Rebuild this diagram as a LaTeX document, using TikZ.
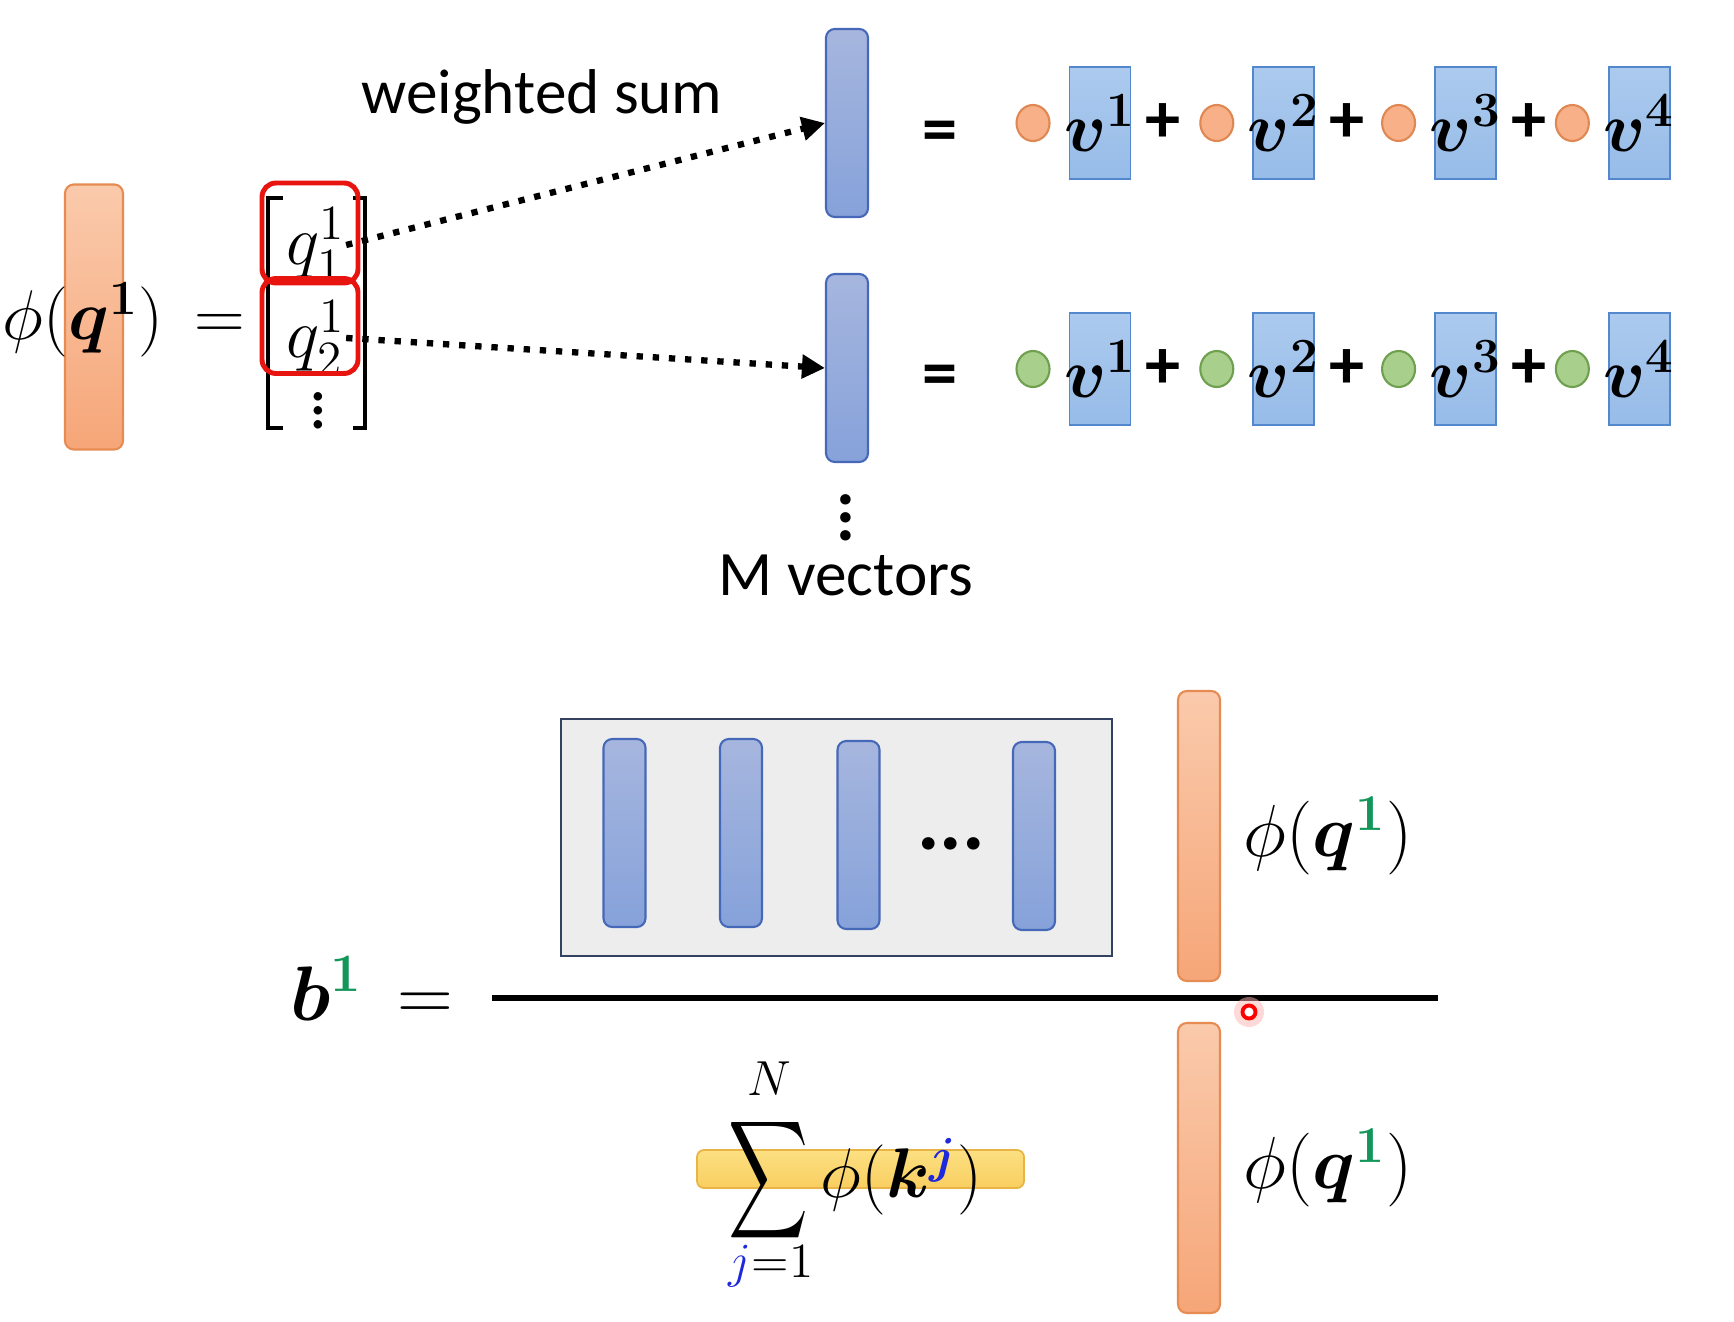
\RequirePackage{fix-cm}
\documentclass[tikz,border=0pt]{standalone}
\usepackage{amsmath}
\usepackage{bm}
\usepackage{graphicx}
\usepackage[no-math]{fontspec}
\setmainfont{Carlito}
\usepackage{xcolor}
\usepackage{tikz}
\usetikzlibrary{
  positioning,
  arrows.meta,
  shapes.geometric
}
\definecolor{qtop}{RGB}{250,202,172}
\definecolor{qbot}{RGB}{246,166,120}
\definecolor{qborder}{RGB}{230,140,82}
\definecolor{vbartop}{RGB}{166,182,222}
\definecolor{vbarbot}{RGB}{134,162,218}
\definecolor{vbarborder}{RGB}{70,104,184}
\definecolor{vboxtop}{RGB}{172,202,238}
\definecolor{vboxbot}{RGB}{150,188,232}
\definecolor{vboxborder}{RGB}{84,136,206}
\definecolor{selred}{RGB}{232,20,16}
\definecolor{ocircfill}{RGB}{247,176,136}
\definecolor{ocircborder}{RGB}{224,136,84}
\definecolor{gcircfill}{RGB}{168,208,140}
\definecolor{gcircborder}{RGB}{110,160,80}
\definecolor{sumtop}{RGB}{252,224,130}
\definecolor{sumbot}{RGB}{249,206,96}
\definecolor{sumborder}{RGB}{232,180,70}
\definecolor{keybg}{RGB}{237,237,237}
\definecolor{keyborder}{RGB}{50,66,96}
\definecolor{supgreen}{RGB}{20,150,90}
\definecolor{jblue}{RGB}{30,40,220}
\newcommand{\stackdots}{\vbox{\baselineskip=5.2pt\lineskiplimit=-10pt\hbox{.}\hbox{.}\hbox{.}}}
\newcommand{\gone}{\textcolor{supgreen}{\mathbf{1}}}
\newcommand{\tallsum}{\mathop{\vcenter{\hbox{\scalebox{0.76}[1.13]{$\displaystyle\sum$}}}}}
\tikzset{
  qbar/.style={
    draw=qborder, top color=qtop, bottom color=qbot, rounded corners=2.5pt,
    minimum width=4.2mm, minimum height=29mm, inner sep=0pt, line width=0.6pt
  },
  vbar/.style={
    draw=vbarborder, top color=vbartop, bottom color=vbarbot, rounded corners=2.5pt,
    minimum width=4.2mm, minimum height=18.8mm, inner sep=0pt, line width=0.6pt
  },
  vbox/.style={
    draw=vboxborder, top color=vboxtop, bottom color=vboxbot,
    minimum width=6.1mm, minimum height=11.2mm, inner sep=0pt, line width=0.5pt,
    font=\fontsize{20}{24}\selectfont
  },
  wcirc/.style={
    ellipse, minimum width=3.3mm, minimum height=3.6mm, inner sep=0pt, line width=0.6pt
  },
  ocirc/.style={wcirc, draw=ocircborder, fill=ocircfill},
  gcirc/.style={wcirc, draw=gcircborder, fill=gcircfill},
  qsel/.style={
    draw=selred, line width=1.4pt, rounded corners=4pt,
    minimum width=9.6mm, inner sep=0pt
  },
  mathtxt/.style={font=\fontsize{20}{24}\selectfont, inner sep=0pt},
  limtxt/.style={font=\fontsize{14}{17}\selectfont, inner sep=0pt},
  labeltxt/.style={font=\fontsize{18}{22}\selectfont, inner sep=0pt},
  opsign/.style={font=\fontsize{20}{24}\selectfont\bfseries, inner sep=0pt},
  dotarrow/.style={
    -{Triangle[length=2.3mm, width=2.3mm]}, line width=1.8pt, dash pattern=on 1.8pt off 2.8pt
  },
  bracket/.style={line width=1pt},
  keybox/.style={
    draw=keyborder, fill=keybg, minimum width=55.1mm, minimum height=23.7mm,
    inner sep=0pt, line width=0.7pt
  },
  sumbar/.style={
    draw=sumborder, top color=sumtop, bottom color=sumbot, rounded corners=2pt,
    minimum width=32.7mm, minimum height=3.8mm, inner sep=0pt, line width=0.5pt
  }
}

\begin{document}
\begin{tikzpicture}[x=0.1mm, y=-0.1mm]

    \path[use as bounding box, fill=white] (0,0) rectangle (1734,1321);

    % query vector and its entries
    \node[qbar, minimum width=5.8mm, minimum height=26.5mm] (qleft) at (94,317) {};
    \node[mathtxt] (qdef) at (124,320) {$\phi(\bm{q}^{\mathbf{1}})\,=$};

    \node[mathtxt] (q11) at (316,245) {$q_1^1$};
    \node[mathtxt] (q12) at (316,338) {$q_2^1$};
    \node[mathtxt] (qdots) at (318,400) {$\vdots$};

    \draw[bracket] (283,198) -| (268,428) -- (283,428);
    \draw[bracket] (353,198) -| (365,428) -- (353,428);

    \node[qsel, minimum height=10mm] (sel1) at (310,233) {};
    \node[qsel, minimum height=9.5mm] (sel2) at (310,326) {};

    % weighted sums
    \node[vbar] (vsum1) at (847,123) {};
    \node[vbar] (vsum2) at (847,368) {};
    \node[labeltxt] (wsum) at (542,97) {weighted sum};
    \node[font=\fontsize{20}{24}\selectfont\bfseries, inner sep=0pt] (mdots) at (846,518) {\stackdots};
    \node[labeltxt] (mvec) at (846,575) {M vectors};

    \draw[dotarrow] (q11.east) -- (vsum1.west);
    \draw[dotarrow] (q12.east) -- (vsum2.west);

    % first row
    \node[opsign] (eq1) at (940,137) {=};
    \node[ocirc] (c11) at (1033,123) {};
    \node[vbox, right=1.8mm of c11] (v11) {\makebox[0pt]{$\bm{v}^{\mathbf{1}}$}};
    \node[opsign, right=1.35mm of v11] (p11) {+};
    \node[ocirc, right=1.8mm of p11] (c12) {};
    \node[vbox, right=1.8mm of c12] (v12) {\makebox[0pt]{$\bm{v}^{\mathbf{2}}$}};
    \node[opsign, right=1.35mm of v12] (p12) {+};
    \node[ocirc, right=1.6mm of p12] (c13) {};
    \node[vbox, right=1.8mm of c13] (v13) {\makebox[0pt]{$\bm{v}^{\mathbf{3}}$}};
    \node[opsign, right=1.35mm of v13] (p13) {+};
    \node[ocirc, right=0.8mm of p13] (c14) {};
    \node[vbox, right=1.8mm of c14] (v14) {\makebox[0pt]{$\bm{v}^{\mathbf{4}}$}};

    % second row
    \node[opsign] (eq2) at (940,381) {=};
    \node[gcirc] (c21) at (1033,369) {};
    \node[vbox, right=1.8mm of c21] (v21) {\makebox[0pt]{$\bm{v}^{\mathbf{1}}$}};
    \node[opsign, right=1.35mm of v21] (p21) {+};
    \node[gcirc, right=1.8mm of p21] (c22) {};
    \node[vbox, right=1.8mm of c22] (v22) {\makebox[0pt]{$\bm{v}^{\mathbf{2}}$}};
    \node[opsign, right=1.35mm of v22] (p22) {+};
    \node[gcirc, right=1.6mm of p22] (c23) {};
    \node[vbox, right=1.8mm of c23] (v23) {\makebox[0pt]{$\bm{v}^{\mathbf{3}}$}};
    \node[opsign, right=1.35mm of v23] (p23) {+};
    \node[gcirc, right=0.8mm of p23] (c24) {};
    \node[vbox, right=1.8mm of c24] (v24) {\makebox[0pt]{$\bm{v}^{\mathbf{4}}$}};

    % numerator
    \node[keybox] (keys) at (836.5,837.5) {};
    \node[vbar] (k1) at (624.5,833) {};
    \node[vbar] (k2) at (741,833) {};
    \node[vbar] (k3) at (858.5,835) {};
    \node[vbar] (k4) at (1034,836) {};
    \node[font=\fontsize{24}{28}\selectfont\bfseries, inner sep=0pt] (kdots) at (951,844) {...};

    \node[qbar] (qtop) at (1199,836) {};
    \node[font=\fontsize{21}{25}\selectfont, inner sep=0pt, right=2.2mm of qtop] (qlabtop) {$\phi(\bm{q}^{\gone})$};

    % fraction
    \node[font=\fontsize{22}{26}\selectfont, inner sep=0pt, anchor=base west] (blhs) at (290,1020) {$\bm{b}^{\gone}\,=$};
    \coordinate (fracL) at (492,998);
    \coordinate (fracR) at (1438,998);
    \draw[line width=1.8pt] (fracL) -- (fracR);

    \coordinate (cursorpos) at (1249,1012);
    \fill[red!30, opacity=0.5] (cursorpos) circle (1.5mm);
    \node[circle, draw=red, fill=white, line width=1.1pt, minimum size=1.3mm, inner sep=0pt] (cursor) at (cursorpos) {};

    % denominator
    \node[sumbar] (ksum) at (860.5,1169) {};
    \node[mathtxt, anchor=west] (sumtxt) at (728,1180) {$\tallsum\phi(\bm{k}^{\textcolor{jblue}{\bm{j}}})$};
    \node[limtxt] (sumhi) at (769,1079) {$N$};
    \node[limtxt] (sumlo) at (771,1266) {$\textcolor{jblue}{j}{=}1$};

    \node[qbar] (qbot) at (1199,1168) {};
    \node[font=\fontsize{21}{25}\selectfont, inner sep=0pt, right=2.2mm of qbot] (qlabbot) {$\phi(\bm{q}^{\gone})$};

\end{tikzpicture}
\end{document}
